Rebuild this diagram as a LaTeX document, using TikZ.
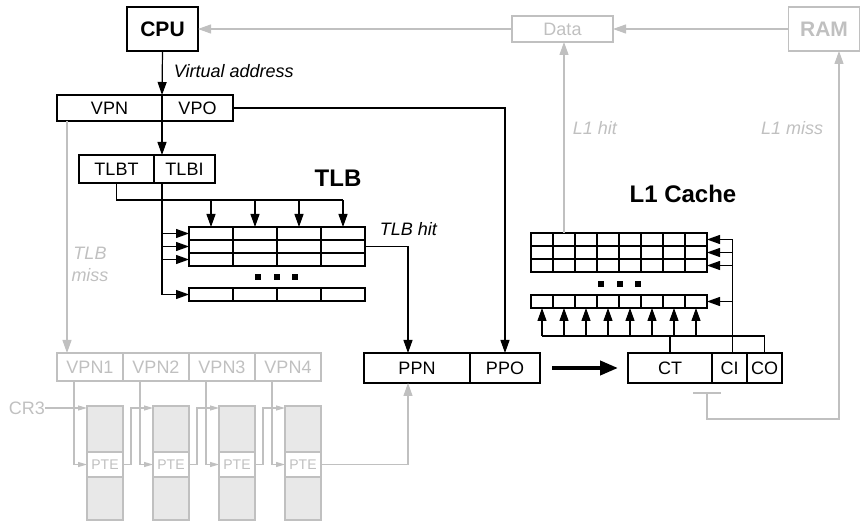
\documentclass[tikz,border=0pt]{standalone}
\usepackage{fontspec}
\setmainfont{Liberation Sans}
\usetikzlibrary{arrows.meta}
\definecolor{lightgr}{RGB}{192,192,192}
\definecolor{fillgr}{RGB}{232,232,232}

\begin{document}
\begin{tikzpicture}[x=1pt,y=-1pt,line width=1.2pt,
  >={Triangle[length=13pt,width=9pt]},
  box/.style={draw,rectangle,inner sep=0pt,outer sep=0pt,minimum height=26pt,font=\fontsize{18}{20}\selectfont},
  gbox/.style={box,draw=lightgr,text=lightgr},
  cell/.style={draw,rectangle,inner sep=0pt,outer sep=0pt,minimum height=13pt},
  pcol/.style={draw=lightgr,fill=fillgr,rectangle,inner sep=0pt,outer sep=0pt,minimum width=36pt},
  gline/.style={draw=lightgr},
  smalltip/.style={-{Triangle[length=9pt,width=5pt]}},
  title/.style={font=\bfseries\fontsize{24}{28}\selectfont},
  label/.style={font=\itshape\fontsize{18}{22}\selectfont}]
%\draw [help lines, color=lightgray] (0,0) grid[step=20] (860,521);
\useasboundingbox (0,0) rectangle (860,521);

\node [box,minimum width=71pt,minimum height=44pt,font=\bfseries\fontsize{21}{24}\selectfont] (cpu) at (162.5,29) {CPU};
\node [gbox,minimum width=71pt,minimum height=44pt,font=\bfseries\fontsize{21}{24}\selectfont] (ram) at (824,29) {RAM};
\node [gbox,minimum width=101pt] (data) at (562.5,29) {Data};

\node [box,minimum width=105pt] (vpn) at (109.5,108) {VPN};
\node [box,minimum width=71pt,anchor=west] (vpo) at (vpn.east) {VPO};
\node [box,minimum width=75pt,minimum height=28pt] (tlbt) at (116.5,169) {TLBT};
\node [box,minimum width=61pt,minimum height=28pt,anchor=west] (tlbi) at (tlbt.east) {TLBI};

\foreach \r/\y in {1/233.5,2/246.5,3/259.5,4/294.5}
  \foreach \c in {1,...,4}
    \node [cell,minimum width=44pt] (tlb-\r-\c) at ({189+44*(\c-0.5)},\y) {};
\foreach \r/\y in {1/239.5,2/252.5,3/265.5,4/301.5}
  \foreach \c in {1,...,8}
    \node [cell,minimum width=22pt] (set-\r-\c) at ({531+22*(\c-0.5)},\y) {};
\foreach \x in {258,277,295} \fill (\x-3,274) rectangle (\x+3,280);
\foreach \x in {601,620,638} \fill (\x-3,281) rectangle (\x+3,287);

\node [box,minimum width=106pt,minimum height=30pt] (ppn) at (417,368) {PPN};
\node [box,minimum width=70pt,minimum height=30pt,anchor=west] (ppo) at (ppn.east) {PPO};
\node [box,minimum width=84pt,minimum height=30pt] (ct) at (670,368) {CT};
\node [box,minimum width=35pt,minimum height=30pt,anchor=west] (ci) at (ct.east) {CI};
\node [box,minimum width=35pt,minimum height=30pt,anchor=west] (co) at (ci.east) {CO};

\foreach \i in {1,...,4} {
  \node [gbox,minimum width=66pt,minimum height=28pt] (vpn\i) at ({57+66*(\i-0.5)},367) {VPN\i};
  \node [pcol,minimum height=46pt] (top\i) at ({39+66*\i},429) {};
  \node [gbox,minimum width=36pt,minimum height=25pt,fill=white,font=\fontsize{14}{16}\selectfont] (pte\i) at ({39+66*\i},464.5) {PTE};
  \node [pcol,minimum height=43pt] (bot\i) at ({39+66*\i},498.5) {};
}

\node [title] (tlbname) at (338,178) {TLB};
\node [title] (l1name) at (683,194) {L1 Cache};
\node [label,anchor=west] (va) at (170,71) {Virtual address};
\node [label,anchor=west] (hit) at (376,229) {TLB hit};
\node [label,text=lightgr,align=center] (miss) at (90,264) {TLB\\miss};
\node [label,text=lightgr,anchor=west] (l1hit) at (569,128) {L1 hit};
\node [label,text=lightgr,anchor=east] (l1miss) at (827,128) {L1 miss};
\node [box,draw=none,text=lightgr,anchor=east] (cr3) at (45,408) {CR3};

% translation path
\draw [->] (cpu.south) -- (vpn.north east);
\draw [->] (vpn.south east) -- (vpn.south east |- tlbi.north);
\draw [->] (vpo.east) -| (ppo.north);
\draw (tlbt.south) |- (tlb-1-4.north |- 0,200);
\foreach \c in {1,...,4} \draw [->] (tlb-1-\c.north |- 0,200) -- (tlb-1-\c.north);
\coordinate (ibus) at ([xshift=8pt]tlbi.south west);
\draw [->] (ibus) |- (tlb-4-1.west);
\foreach \r in {1,2,3} \draw [->] (ibus |- tlb-\r-1.west) -- (tlb-\r-1.west);
\draw [->] (tlb-2-4.east) -| ([xshift=-9pt]ppn.north);
\draw [line width=4pt,-{Triangle[length=18pt,width=14pt]}] ([xshift=12pt]ppo.east) -- ([xshift=-10pt]ct.west);

% cache lookup
\coordinate (cisel) at ([xshift=3pt]ci.north);
\draw [->] (cisel) |- (set-1-8.east);
\foreach \r in {2,3,4} \draw [->] (cisel |- set-\r-8.east) -- (set-\r-8.east);
\coordinate (cobus) at (co.north |- 0,336);
\draw (set-4-1.south |- cobus) -- (cobus) -- (co.north);
\draw (ct.north) -- (ct.north |- cobus);
\foreach \c in {1,...,8} \draw [->] (set-4-\c.south |- cobus) -- (set-4-\c.south);

% grey paths
\draw [gline,->] (data) -- (cpu);
\draw [gline,->] (ram) -- (data);
\draw [gline,->] (set-1-2.north) -- (set-1-2.north |- data.south);
\coordinate (tee) at (707,393);
\draw [gline] ([xshift=-14pt]tee) -- ([xshift=14pt]tee);
\draw [gline,->] (tee) -- ++(0,26) -| ([xshift=15pt]ram.south);
\draw [gline,->] ([xshift=10pt]vpn.south west) -- ([xshift=10pt]vpn1.north west);
\draw [gline,smalltip] (cr3.east) -- (cr3.east -| top1.west);
\foreach \i in {1,...,4}
  \draw [gline,smalltip] ([xshift=17pt]vpn\i.south west) |- (pte\i.west);
\foreach \i/\j in {1/2,2/3,3/4}
  \draw [gline,smalltip] (pte\i.east) -- ++(8,0) |- ([yshift=-2pt]top\j.north west);
\draw [gline,->] (pte4.east) -| ([xshift=-9pt]ppn.south);

\end{tikzpicture}
\end{document}
